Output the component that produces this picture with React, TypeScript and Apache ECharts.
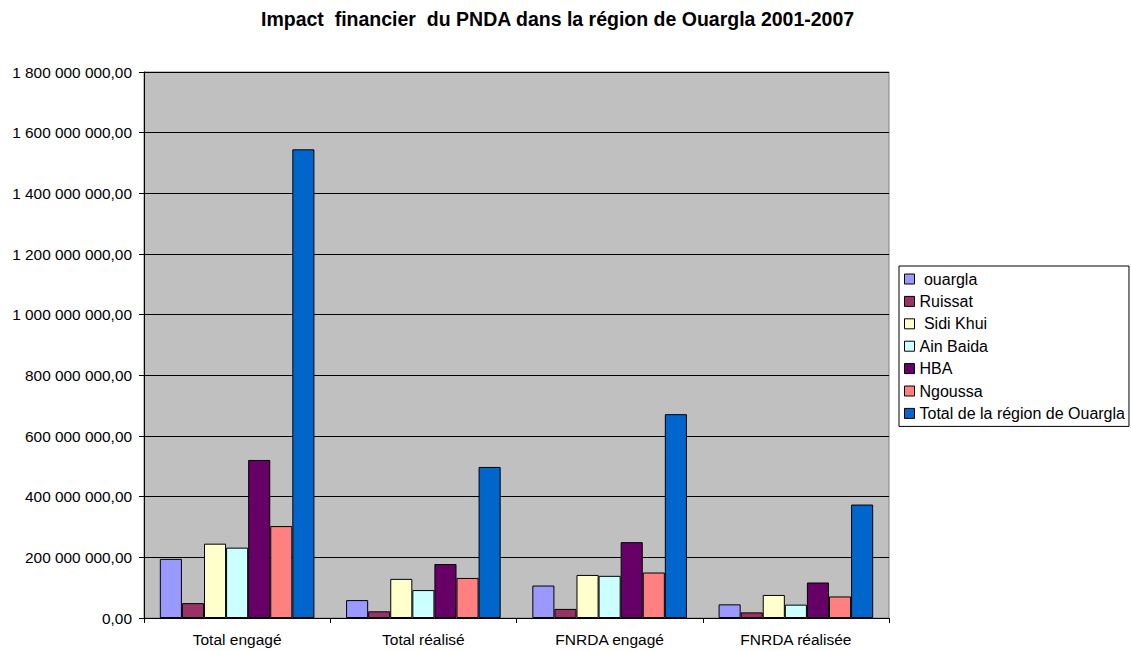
import React, { useEffect, useRef } from "react";
import * as echarts from "echarts";

const categories = ["Total engagé", "Total réalisé", "FNRDA engagé", "FNRDA réalisée"];
const seriesNames = [" ouargla", "Ruissat", " Sidi Khui", "Ain Baida", "HBA", "Ngoussa", "Total de la région de Ouargla"];
const ouargla = [195000000, 59000000, 107000000, 45000000];
const ruissat = [49000000, 22000000, 30000000, 18500000];
const sidiKhui = [245000000, 129000000, 142000000, 76000000];
const ainBaida = [232000000, 92000000, 139000000, 44000000];
const hba = [521000000, 178000000, 250000000, 117000000];
const ngoussa = [303000000, 132000000, 150000000, 71000000];
const totalRegion = [1545000000, 498000000, 672000000, 374000000];
const seriesValues = [ouargla, ruissat, sidiKhui, ainBaida, hba, ngoussa, totalRegion];
const colors = ["#9999FF", "#993366", "#FFFFCC", "#CCFFFF", "#660066", "#FF8080", "#0066CC"];

const FONT = "Liberation Sans";

function fmt(v: number): string {
  const s = Math.round(v).toString().replace(/\B(?=(\d{3})+(?!\d))/g, " ");
  return s + ",00";
}

export default function App() {
  const ref = useRef<HTMLDivElement>(null);
  useEffect(() => {
    if (!ref.current) return;
    const chart = echarts.init(ref.current, undefined, { renderer: "svg" });
    chart.setOption({
      animation: false,
      backgroundColor: "#ffffff",
      textStyle: { fontFamily: FONT, color: "#000" },
      title: {
        text: "Impact  financier  du PNDA dans la région de Ouargla 2001-2007",
        left: 256,
        top: 4,
        textStyle: { fontFamily: FONT, fontSize: 19.5, fontWeight: "bold", color: "#000" },
      },
      legend: {
        orient: "vertical",
        left: 899,
        top: 266,
        padding: [5, 4, 5, 5],
        itemGap: 6.4,
        itemWidth: 10,
        itemHeight: 10,
        icon: "rect",
        backgroundColor: "#ffffff",
        borderColor: "#000",
        borderWidth: 1,
        borderRadius: 0,
        textStyle: { fontFamily: FONT, fontSize: 16, lineHeight: 16, color: "#000" },
        itemStyle: { borderColor: "#000", borderWidth: 1 },
        data: seriesNames,
      },
      grid: {
        left: 144,
        right: 242,
        top: 72,
        bottom: 33,
        show: true,
        backgroundColor: "#c0c0c0",
        borderColor: "#808080",
        borderWidth: 1,
      },
      xAxis: {
        type: "category",
        data: categories,
        axisLine: { show: true, lineStyle: { color: "#000", width: 1 } },
        axisTick: { show: true, length: 5, lineStyle: { color: "#000" } },
        axisLabel: { fontFamily: FONT, fontSize: 15.5, color: "#000", margin: 13 },
      },
      yAxis: {
        type: "value",
        min: 0,
        max: 1800000000,
        interval: 200000000,
        axisLine: { show: true, lineStyle: { color: "#000", width: 1 } },
        axisTick: { show: true, length: 5, lineStyle: { color: "#000" } },
        axisLabel: { fontFamily: FONT, fontSize: 15.4, color: "#000", margin: 12, formatter: (v: number) => fmt(v) },
        splitLine: { show: true, lineStyle: { color: "#000", width: 1 } },
      },
      series: seriesNames.map((name, i) => ({
        name,
        type: "bar",
        data: seriesValues[i],
        barGap: "0%",
        barCategoryGap: "17%",
        itemStyle: { color: colors[i], borderColor: "#000", borderWidth: 1 },
      })),
    });
    return () => chart.dispose();
  }, []);
  return (
    <div
      ref={ref}
      style={{ position: "absolute", left: 0, top: 0, width: 1131, height: 651, background: "#fff" }}
    />
  );
}
